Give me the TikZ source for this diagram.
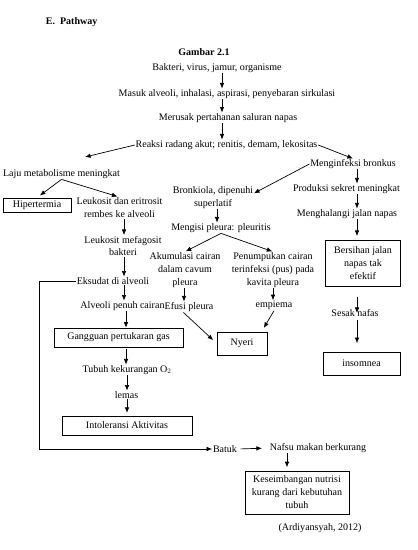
\documentclass[tikz,border=0pt]{standalone}
\usepackage{fontspec}
\setmainfont{Liberation Serif}
\usetikzlibrary{arrows.meta}

\begin{document}
\begin{tikzpicture}[x=1.427pt, y=-1.427pt, >={Latex[length=8pt,width=6.5pt]},
    txt/.style={inner sep=1pt, align=center, font=\fontsize{14.3}{18.5}\selectfont},
    box/.style={txt, draw, line width=1pt},
    arr/.style={->, line width=1pt}]
  \useasboundingbox (0,0) rectangle (417,550);
  % headings
  \node[txt, anchor=west, font=\fontsize{14.3}{18.5}\selectfont\bfseries] (sec) at (45,22) {E.\enspace Pathway};
  \node[txt, font=\fontsize{14.3}{18.5}\selectfont\bfseries] (fig) at (204,52) {Gambar 2.1};
  % main trunk
  \node[txt] (bak) at (217,68) {Bakteri, virus, jamur, organisme};
  \node[txt] (mas) at (227,94) {Masuk alveoli, inhalasi, aspirasi, penyebaran sirkulasi};
  \node[txt] (mer) at (228,118) {Merusak pertahanan saluran napas};
  \node[txt] (rea) at (226.5,145) {Reaksi radang akut; renitis, demam, lekositas};
  % left branch
  \node[txt] (laj) at (61.5,174) {Laju metabolisme meningkat};
  \node[box, minimum width=97pt, minimum height=20pt] (hip) at (37,205) {Hipertermia};
  \node[txt] (leu) at (119.5,208) {Leukosit dan eritrosit\\rembes ke alveoli};
  \node[txt] (lef) at (123,246) {Leukosit mefagosit\\bakteri};
  \node[txt] (eks) at (113,281) {Eksudat di alveoli};
  \node[txt] (alv) at (122.5,306) {Alveoli penuh cairan};
  \node[box, minimum width=184pt, minimum height=27pt] (gan) at (118.5,337.5) {Gangguan pertukaran gas};
  \node[txt] (tub) at (127,370) {Tubuh kekurangan O$_2$};
  \node[txt] (lem) at (126.5,395) {lemas};
  \node[box, minimum width=185.5pt, minimum height=27pt] (int) at (127,425.5) {Intoleransi Aktivitas};
  \node[txt] (bat) at (225,449) {Batuk};
  \node[txt] (naf) at (318,448) {Nafsu makan berkurang};
  \node[box, minimum width=148pt, minimum height=61pt] (kes) at (297,492.5)
    {Keseimbangan nutrisi\\kurang dari kebutuhan\\tubuh};
  \node[txt] (ard) at (320,528) {(Ardiyansyah, 2012)};
  % middle branch
  \node[txt] (bro) at (213,197.5) {Bronkiola, dipenuhi\\superlatif};
  \node[txt] (mgs) at (221,228) {Mengisi pleura: pleuritis};
  \node[txt] (aku) at (185,270) {Akumulasi cairan\\dalam cavum\\pleura};
  \node[txt] (pen) at (273,270) {Penumpukan cairan\\terinfeksi (pus) pada\\kavita pleura};
  \node[txt] (efu) at (189,307) {Efusi pleura};
  \node[txt] (emp) at (274,305.5) {empiema};
  \node[box, minimum width=71pt, minimum height=33pt] (nye) at (242,343.5) {Nyeri};
  % right branch
  \node[txt] (minf) at (353,164) {Menginfeksi bronkus};
  \node[txt] (pro) at (346.5,189) {Produksi sekret meningkat};
  \node[txt] (mhl) at (347,214) {Menghalangi jalan napas};
  \node[box, minimum width=108pt, minimum height=66pt] (bers) at (363,263) {Bersihan jalan\\napas tak\\efektif};
  \node[txt] (ses) at (355,313) {Sesak nafas};
  \node[box, minimum width=110pt, minimum height=33pt] (ins) at (361.5,363.5) {insomnea};
  % trunk arrows
  \draw[arr] (bak.south -| 222,0) -- (mas.north -| 222,0);
  \draw[arr] (mas.south -| 222,0) -- (mer.north -| 222,0);
  \draw[arr] (mer.south -| 222,0) -- (rea.north -| 222,0);
  \draw[arr] (rea.west) -- (85,157);
  \draw[arr] (rea.east) -- (minf.north);
  % left arrows
  \draw[arr, shorten >=5pt] (laj.south) -- (hip.north);
  \draw[arr, shorten >=3pt] (laj.south) -- (leu.north);
  \draw[arr] (leu.south -| 124,0) -- (lef.north -| 124,0);
  \draw[arr] (lef.south -| 124,0) -- (eks.north -| 124,0);
  \draw[arr] (eks.south -| 124,0) -- (alv.north -| 124,0);
  \draw[arr] (alv.south -| 126,0) -- (gan.north -| 126,0);
  \draw[arr, shorten <=3pt] (gan.south -| 126,0) -- (tub.north -| 126,0);
  \draw[arr] (tub.south -| 127,0) -- (lem.north -| 127,0);
  \draw[arr, shorten >=4pt] (lem.south -| 127,0) -- (int.north -| 127,0);
  \draw[arr] (eks.west) -- ++(-37,0) |- (bat.west);
  \draw[arr, shorten <=4pt, shorten >=10pt] (bat.east) -- (naf.west);
  \draw[arr, shorten >=5pt] (naf.south -| 287,0) -- (kes.north -| 287,0);
  % middle arrows
  \draw[arr] (minf.west) -- ([yshift=6pt]bro.east);
  \draw[arr] (bro.south -| 217,0) -- (mgs.north -| 217,0);
  \draw[arr, shorten >=1pt] (mgs.south) -- (aku.north);
  \draw[arr, shorten >=1pt] (mgs.south) -- (pen.north);
  \draw[arr] (aku.south -| 184,0) -- (efu.north -| 184,0);
  \draw[arr] (pen.south -| 273,0) -- (emp.north -| 273,0);
  \draw[arr, shorten >=7pt] ([xshift=-8pt]efu.south) -- (nye.west);
  \draw[arr, shorten >=6pt] (emp.south) -- ([xshift=-8pt]nye.north east);
  % right arrows
  \draw[arr] (minf.south -| 357,0) -- (pro.north -| 357,0);
  \draw[arr] (pro.south -| 357,0) -- (mhl.north -| 357,0);
  \draw[arr, shorten >=5pt] (mhl.south -| 357,0) -- (bers.north -| 357,0);
  \draw[arr, shorten <=15pt] (bers.south -| 357,0) -- (ses.center -| 357,0);
  \draw[arr, shorten <=4pt, shorten >=12pt] (ses.south -| 357,0) -- (ins.north -| 357,0);
\end{tikzpicture}
\end{document}
